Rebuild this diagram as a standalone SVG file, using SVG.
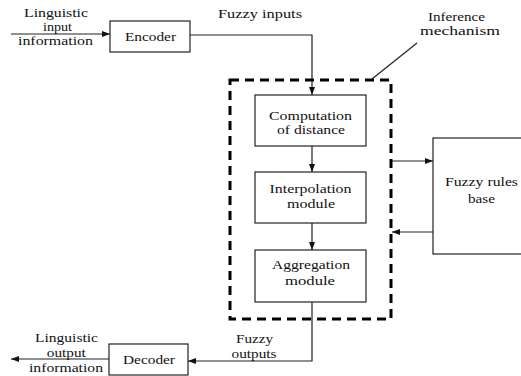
<svg xmlns="http://www.w3.org/2000/svg" width="521" height="376" viewBox="0 0 521 376">
<style>
text{font-family:"Liberation Serif","Times New Roman",serif;font-size:13.5px;fill:#111;text-anchor:middle}
.box{fill:#fff;stroke:#222;stroke-width:1.2}
.ln{fill:none;stroke:#222;stroke-width:1.2}
.dash{fill:none;stroke:#000;stroke-width:3;stroke-dasharray:9 6}
</style>
<defs>
<marker id="ah" viewBox="0 0 8 6" refX="8" refY="3" markerWidth="8" markerHeight="6" markerUnits="userSpaceOnUse" orient="auto">
<path d="M0,0 L8,3 L0,6 z" fill="#111"/>
</marker>
</defs>
<rect width="521" height="376" fill="#fff"/>
<g id="connectors">
<line class="ln" x1="11" y1="34" x2="110" y2="34" marker-end="url(#ah)"/>
<polyline class="ln" points="190,35 312,35 312,95" marker-end="url(#ah)"/>
<line class="ln" x1="312" y1="146" x2="312" y2="172" marker-end="url(#ah)"/>
<line class="ln" x1="312" y1="223" x2="312" y2="250" marker-end="url(#ah)"/>
<line class="ln" x1="391" y1="161" x2="433" y2="161" marker-end="url(#ah)"/>
<line class="ln" x1="433" y1="232" x2="392" y2="232" marker-end="url(#ah)"/>
<polyline class="ln" points="312,302 312,361 188,361" marker-end="url(#ah)"/>
<line class="ln" x1="109" y1="359" x2="11" y2="359" marker-end="url(#ah)"/>
<line class="ln" x1="417" y1="43" x2="372" y2="79"/>
</g>
<g id="inference-mechanism">
<rect class="dash" x="230" y="80" width="161" height="239"/>
<text x="456.5" y="21" textLength="57" lengthAdjust="spacingAndGlyphs">Inference</text>
<text x="460" y="35" textLength="80" lengthAdjust="spacingAndGlyphs">mechanism</text>
</g>
<g id="input-label">
<text x="56" y="17" textLength="64" lengthAdjust="spacingAndGlyphs">Linguistic</text>
<text x="57.5" y="31" textLength="29" lengthAdjust="spacingAndGlyphs">input</text>
<text x="55.5" y="45" textLength="75" lengthAdjust="spacingAndGlyphs">information</text>
</g>
<g id="fuzzy-inputs-label"><text x="260" y="18" textLength="84" lengthAdjust="spacingAndGlyphs">Fuzzy inputs</text></g>
<g id="encoder">
<rect class="box" x="110" y="21" width="80" height="31"/>
<text x="150.5" y="41" textLength="51" lengthAdjust="spacingAndGlyphs">Encoder</text>
</g>
<g id="computation">
<rect class="box" x="255" y="95" width="111" height="51"/>
<text x="310.5" y="120" textLength="83" lengthAdjust="spacingAndGlyphs">Computation</text>
<text x="311" y="134" textLength="68" lengthAdjust="spacingAndGlyphs">of distance</text>
</g>
<g id="interpolation">
<rect class="box" x="255" y="172" width="111" height="51"/>
<text x="310.5" y="193" textLength="82" lengthAdjust="spacingAndGlyphs">Interpolation</text>
<text x="311" y="208" textLength="48" lengthAdjust="spacingAndGlyphs">module</text>
</g>
<g id="aggregation">
<rect class="box" x="255" y="250" width="111" height="52"/>
<text x="311" y="269" textLength="78" lengthAdjust="spacingAndGlyphs">Aggregation</text>
<text x="310" y="285" textLength="50" lengthAdjust="spacingAndGlyphs">module</text>
</g>
<g id="rules-base">
<rect class="box" x="433" y="138" width="100" height="116"/>
<text x="481.5" y="186" textLength="73" lengthAdjust="spacingAndGlyphs">Fuzzy rules</text>
<text x="481.5" y="203" textLength="27" lengthAdjust="spacingAndGlyphs">base</text>
</g>
<g id="decoder">
<rect class="box" x="109" y="344" width="79" height="31"/>
<text x="149" y="364" textLength="52" lengthAdjust="spacingAndGlyphs">Decoder</text>
</g>
<g id="fuzzy-outputs-label">
<text x="254.5" y="343" textLength="37" lengthAdjust="spacingAndGlyphs">Fuzzy</text>
<text x="254" y="358" textLength="45" lengthAdjust="spacingAndGlyphs">outputs</text>
</g>
<g id="output-label">
<text x="66.5" y="342" textLength="63" lengthAdjust="spacingAndGlyphs">Linguistic</text>
<text x="66.3" y="357" textLength="39" lengthAdjust="spacingAndGlyphs">output</text>
<text x="66" y="372" textLength="74" lengthAdjust="spacingAndGlyphs">information</text>
</g>
</svg>
